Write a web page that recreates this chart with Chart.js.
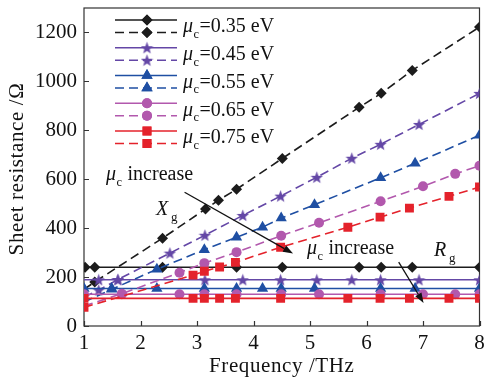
<!DOCTYPE html>
<html><head><meta charset="utf-8">
<script src="https://cdn.jsdelivr.net/npm/chart.js@4.4.0/dist/chart.umd.min.js"></script>
<style>html,body{margin:0;padding:0;background:#fff;}</style>
</head><body>
<canvas id="c" width="486" height="378" style="width:486px;height:378px;display:block"></canvas>
<script>
// ---------- data ----------
const muValues = ['0.35', '0.45', '0.55', '0.65', '0.75'];
const xTickValues = [1, 2, 3, 4, 5, 6, 7, 8];
const yTickValues = [0, 200, 400, 600, 800, 1000, 1200];

// mu_c = 0.35 eV
const freqXg035 = [1.0, 1.19, 2.39, 3.15, 3.38, 3.70, 4.51, 5.87, 6.26, 6.81, 8.0];
const xg035     = [150, 180, 359, 478, 514, 559, 685, 894, 951, 1045, 1222];
const freqRg035 = [1.02, 1.19, 2.39, 3.70, 4.51, 5.87, 6.26, 6.81, 8.0];
const rg035     = [240, 240, 240, 240, 240, 240, 240, 240, 240];
// mu_c = 0.45 eV
const freqXg045 = [1.0, 1.26, 1.6, 2.52, 3.14, 3.81, 4.48, 5.12, 5.74, 6.25, 6.93, 8.0];
const xg045     = [118, 147, 190, 298, 371, 452, 531, 608, 686, 743, 824, 951];
const freqRg045 = [1.0, 1.26, 1.6, 3.14, 3.81, 4.48, 5.12, 5.74, 6.25, 6.93, 8.0];
const rg045     = [189, 189, 189, 189, 189, 189, 189, 189, 189, 189, 189];
// mu_c = 0.55 eV
const freqXg055 = [1.0, 1.49, 2.29, 3.13, 3.70, 4.16, 4.49, 5.08, 6.25, 6.86, 8.0];
const xg055     = [98, 150, 232, 312, 363, 404, 441, 496, 606, 665, 780];
const freqRg055 = [1.0, 1.49, 2.29, 3.13, 3.70, 4.16, 4.49, 5.08, 6.25, 6.86, 8.0];
const rg055     = [153, 153, 153, 153, 153, 153, 153, 153, 153, 153, 153];
// mu_c = 0.65 eV
const freqXg065 = [1.0, 1.67, 2.69, 3.13, 3.70, 4.49, 5.16, 6.25, 7.0, 7.57, 8.0];
const xg065     = [82, 132, 218, 257, 302, 369, 422, 510, 571, 622, 655];
const freqRg065 = [1.0, 1.67, 2.69, 3.13, 3.70, 4.49, 5.16, 6.25, 7.0, 7.57, 8.0];
const rg065     = [130, 130, 130, 130, 130, 130, 130, 130, 130, 130, 130];
// mu_c = 0.75 eV
const freqXg075 = [1.0, 2.93, 3.13, 3.40, 3.68, 4.48, 5.67, 6.24, 6.76, 7.46, 8.0];
const xg075     = [76, 208, 224, 241, 260, 322, 404, 445, 482, 530, 568];
const freqRg075 = [1.0, 2.93, 3.13, 3.40, 3.68, 4.48, 5.67, 6.24, 6.76, 7.46, 8.0];
const rg075     = [113, 113, 113, 113, 113, 113, 113, 113, 113, 113, 113];

// ---------- styles ----------
const FONT = '"Liberation Serif", "Times New Roman", serif';
const colors = ['#1c1c1c', '#6447a6', '#1f4fa3', '#b258ad', '#e4222b'];
const markerKinds = ['rectRot', 'star', 'triangle', 'circle', 'rect'];
const markerRadius = [5.5, 6, 6.5, 5, 6.3];

function makeStar(color, size) {
  const cv = document.createElement('canvas');
  cv.width = size; cv.height = size;
  const g = cv.getContext('2d');
  const cx = size / 2, cy = size / 2 + 0.6, R = size / 2, r = R * 0.42;
  g.fillStyle = color;
  g.beginPath();
  for (let i = 0; i < 10; i++) {
    const rad = i % 2 === 0 ? R : r;
    const ang = -Math.PI / 2 + i * Math.PI / 5;
    const px = cx + rad * Math.cos(ang), py = cy + rad * Math.sin(ang);
    if (i === 0) g.moveTo(px, py); else g.lineTo(px, py);
  }
  g.closePath(); g.fill();
  return cv;
}
const starImg = makeStar(colors[1], 13);

const seriesSets = [
  [freqXg035, xg035, freqRg035, rg035, false],
  [freqXg045, xg045, freqRg045, rg045, false],
  [freqXg055, xg055, freqRg055, rg055, false],
  [freqXg065, xg065, freqRg065, rg065, false],
  [freqXg075, xg075, freqRg075, rg075, true]
];

function pts(fs, vs) { return fs.map((f, i) => ({ x: f, y: vs[i] })); }

const datasets = [];
for (let k = 4; k >= 0; k--) {
  const [fx, vx, fr, vr, startMarkerXg] = seriesSets[k];
  const ps = markerKinds[k] === 'star' ? starImg : markerKinds[k];
  const common = {
    showLine: true, borderColor: colors[k], backgroundColor: colors[k],
    pointBackgroundColor: colors[k], pointBorderColor: colors[k], pointBorderWidth: 0,
    pointStyle: ps, borderWidth: 1.6, tension: 0, hoverRadius: 0
  };
  datasets.push(Object.assign({}, common, {
    label: 'Xg ' + muValues[k], data: pts(fx, vx), borderDash: [9, 5],
    pointRadius: ctx => (ctx.raw && ctx.raw.x === 1.0 && !startMarkerXg) ? 0 : markerRadius[k]
  }));
  datasets.push(Object.assign({}, common, {
    label: 'Rg ' + muValues[k], data: pts(fr, vr),
    pointRadius: ctx => (ctx.raw && ctx.raw.x === 1.0 && k === 1) ? 0 : markerRadius[k]
  }));
}

// ---------- drawing helpers ----------
function drawMu(ctx, x, baseline, size) {
  ctx.font = 'italic ' + size + 'px ' + FONT;
  ctx.textAlign = 'left'; ctx.textBaseline = 'alphabetic';
  ctx.fillText('μ', x, baseline);
  let w = ctx.measureText('μ').width;
  ctx.font = (size * 0.62) + 'px ' + FONT;
  ctx.fillText('c', x + w + 0.5, baseline + size * 0.28);
  w += ctx.measureText('c').width + 1;
  return x + w;
}
function drawMarker(ctx, k, x, y) {
  if (markerKinds[k] === 'star') {
    ctx.drawImage(starImg, x - starImg.width / 2, y - starImg.height / 2);
  } else {
    ctx.fillStyle = colors[k];
    Chart.helpers.drawPoint(ctx, { pointStyle: markerKinds[k], radius: markerRadius[k], borderWidth: 0, rotation: 0 }, x, y);
    ctx.fill();
  }
}
function arrow(ctx, x1, y1, x2, y2) {
  ctx.strokeStyle = '#111'; ctx.fillStyle = '#111'; ctx.lineWidth = 1.3;
  const ang = Math.atan2(y2 - y1, x2 - x1), L = 10, H = 3.6;
  const bx = x2 - L * Math.cos(ang), by = y2 - L * Math.sin(ang);
  ctx.beginPath(); ctx.moveTo(x1, y1); ctx.lineTo(bx, by); ctx.stroke();
  ctx.beginPath(); ctx.moveTo(x2, y2);
  ctx.lineTo(bx + H * Math.sin(ang), by - H * Math.cos(ang));
  ctx.lineTo(bx - H * Math.sin(ang), by + H * Math.cos(ang));
  ctx.closePath(); ctx.fill();
}

const deco = {
  id: 'deco',
  beforeDatasetsDraw(chart) {
    const { ctx, chartArea: a, scales: { x, y } } = chart;
    ctx.save();
    ctx.strokeStyle = '#333'; ctx.lineWidth = 1.2;
    ctx.strokeRect(a.left, a.top, a.right - a.left, a.bottom - a.top);
    ctx.beginPath();
    xTickValues.forEach(v => { const px = Math.round(x.getPixelForValue(v)) + 0.5; ctx.moveTo(px, a.bottom); ctx.lineTo(px, a.bottom - 5); });
    yTickValues.forEach(v => { const py = Math.round(y.getPixelForValue(v)) + 0.5; ctx.moveTo(a.left, py); ctx.lineTo(a.left + 5, py); });
    ctx.stroke();
    ctx.restore();
  },
  afterDraw(chart) {
    const { ctx, chartArea: a, scales: { x, y } } = chart;
    ctx.save();
    ctx.fillStyle = '#111';
    ctx.font = '21px ' + FONT; ctx.textAlign = 'center'; ctx.textBaseline = 'alphabetic';
    ctx.letterSpacing = '0.6px';
    ctx.fillText('Frequency /THz', (a.left + a.right) / 2, 372);
    ctx.save();
    ctx.translate(23, (a.top + a.bottom) / 2 + 2); ctx.rotate(-Math.PI / 2);
    ctx.fillText('Sheet resistance /Ω', 0, 0);
    ctx.restore();
    ctx.letterSpacing = '0px';

    for (let k = 0; k < 5; k++) {
      const y0 = 20 + 27.75 * k, y1 = y0 + 12.5;
      ctx.strokeStyle = colors[k]; ctx.lineWidth = 1.6;
      ctx.setLineDash([]);
      ctx.beginPath(); ctx.moveTo(115, y0); ctx.lineTo(177, y0); ctx.stroke();
      ctx.setLineDash([9, 5]);
      ctx.beginPath(); ctx.moveTo(115, y1); ctx.lineTo(177, y1); ctx.stroke();
      ctx.setLineDash([]);
      drawMarker(ctx, k, 147, y0);
      drawMarker(ctx, k, 147, y1);
      ctx.fillStyle = '#111';
      const base = (y0 + y1) / 2 + 6;
      const nx = drawMu(ctx, 183, base, 20);
      ctx.font = '20px ' + FONT; ctx.textAlign = 'left';
      ctx.fillText('=' + muValues[k] + ' eV', nx, base);
    }

    ctx.fillStyle = '#111';
    let nx = drawMu(ctx, 106, 180, 20);
    ctx.font = '20px ' + FONT; ctx.textAlign = 'left';
    ctx.fillText(' increase', nx, 180);
    ctx.font = 'italic 20px ' + FONT; ctx.fillText('X', 156, 215);
    ctx.font = '13px ' + FONT; ctx.fillText('g', 171, 221);
    arrow(ctx, x.getPixelForValue(2.78), y.getPixelForValue(547), x.getPixelForValue(4.7), y.getPixelForValue(296));

    nx = drawMu(ctx, 307, 254, 20);
    ctx.font = '20px ' + FONT; ctx.textAlign = 'left';
    ctx.fillText(' increase', nx, 254);
    ctx.font = 'italic 20px ' + FONT; ctx.fillText('R', 434, 256);
    ctx.font = '13px ' + FONT; ctx.fillText('g', 449, 262);
    arrow(ctx, x.getPixelForValue(6.57), y.getPixelForValue(261), x.getPixelForValue(7.01), y.getPixelForValue(94));
    ctx.restore();
  }
};

new Chart(document.getElementById('c'), {
  type: 'scatter',
  data: { datasets },
  options: {
    responsive: false, animation: false, devicePixelRatio: 1,
    layout: { padding: { top: 8, right: 5, left: 0, bottom: 0 } },
    plugins: { legend: { display: false }, tooltip: { enabled: false } },
    events: [],
    scales: {
      x: {
        type: 'linear', min: 1, max: 8,
        afterBuildTicks: s => { s.ticks = xTickValues.map(v => ({ value: v })); },
        afterFit: s => { s.height = 52; s.paddingLeft = 0; s.paddingRight = 0; },
        grid: { display: false, drawTicks: false }, border: { display: false },
        ticks: { padding: 5, color: '#111', font: { family: FONT, size: 21 }, callback: v => String(v) }
      },
      y: {
        type: 'linear', min: 0, max: 1300,
        afterBuildTicks: s => { s.ticks = yTickValues.map(v => ({ value: v })); },
        afterFit: s => { s.width = 84; s.paddingTop = 0; s.paddingBottom = 0; },
        grid: { display: false, drawTicks: false }, border: { display: false },
        ticks: { padding: 7, color: '#111', font: { family: FONT, size: 21 }, callback: v => String(v) }
      }
    }
  },
  plugins: [deco]
});
</script>
</body></html>
